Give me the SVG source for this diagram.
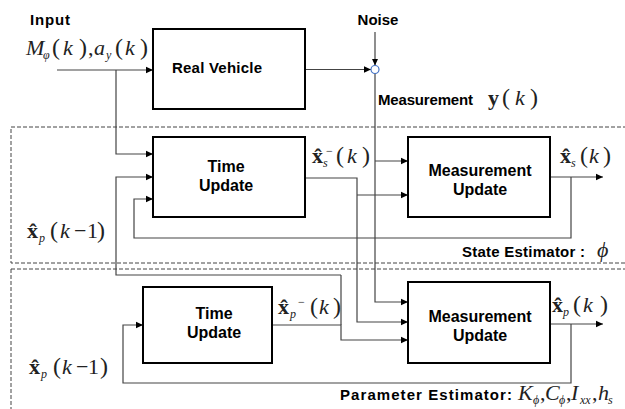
<svg xmlns="http://www.w3.org/2000/svg" width="625" height="409" viewBox="0 0 625 409">
<defs>
<marker id="ah" markerWidth="8" markerHeight="8" refX="7" refY="4" orient="auto" markerUnits="userSpaceOnUse">
<path d="M0,0.8 L7,4 L0,7.2 Z" fill="#000"/>
</marker>
<style>
.box{fill:#fff;stroke:#000;stroke-width:2}
.dash{fill:none;stroke:#444;stroke-width:1;stroke-dasharray:4,2}
.c{fill:none;stroke:#444;stroke-width:1.2}
.a{marker-end:url(#ah)}
.lb{font-family:"Liberation Sans",Arial,sans-serif;font-weight:bold;font-size:15px;fill:#000}
.bx{font-size:16px}
.mid{text-anchor:middle}
.m{font-family:"Liberation Serif","Times New Roman",serif;font-size:22px;fill:#222}
.i{font-style:italic}
.b{font-weight:bold}
.s{font-size:12px}
.p{font-size:24px}
</style>
</defs>
<g id="regions">
<rect class="dash" x="11" y="127" width="620" height="136"/>
<rect class="dash" x="11" y="269" width="620" height="150"/>
</g>
<g id="connectors">
<path class="c a" d="M57,70 H153"/>
<path class="c a" d="M116,70 V154 H153"/>
<path class="c a" d="M305,69.5 H371"/>
<path class="c a" d="M375,32 V65.5"/>
<path class="c a" d="M375,73.5 V302 H408"/>
<path class="c a" d="M375,161 H408"/>
<path class="c a" d="M305,178 H357 V322 H408"/>
<path class="c a" d="M357,195 H408"/>
<path class="c a" d="M550,177 H603"/>
<path class="c a" d="M571,177 V238 H134 V199 H153"/>
<path class="c a" d="M341,275 H116 V177 H153"/>
<path class="c a" d="M272,325 H341 V340 H408"/>
<path class="c" d="M341,275 V325"/>
<path class="c a" d="M550,324 H603"/>
<path class="c a" d="M571,324 V383 H123 V325 H143"/>
</g>
<g id="sum">
<circle cx="375" cy="69.5" r="4" fill="#fff" stroke="#4472C4" stroke-width="1.2"/>
</g>
<g id="real-vehicle">
<rect class="box" x="153" y="29" width="152" height="80"/>
<text class="lb" x="172" y="73" textLength="90">Real Vehicle</text>
</g>
<g id="state-time-update">
<rect class="box" x="153" y="137" width="152" height="80"/>
<text class="lb bx mid" x="226" y="172">Time</text>
<text class="lb bx mid" x="226" y="191">Update</text>
</g>
<g id="state-measurement-update">
<rect class="box" x="408" y="137" width="142" height="80"/>
<text class="lb bx mid" x="480" y="176">Measurement</text>
<text class="lb bx mid" x="480" y="195">Update</text>
</g>
<g id="param-time-update">
<rect class="box" x="143" y="287" width="129" height="76"/>
<text class="lb bx mid" x="214" y="319">Time</text>
<text class="lb bx mid" x="214" y="338">Update</text>
</g>
<g id="param-measurement-update">
<rect class="box" x="408" y="282" width="142" height="81"/>
<text class="lb bx mid" x="480" y="322">Measurement</text>
<text class="lb bx mid" x="480" y="341">Update</text>
</g>
<g id="labels">
<text class="lb" x="30" y="25" textLength="40">Input</text>
<text class="lb mid" x="378" y="25">Noise</text>
<text class="lb" x="378" y="105" textLength="95">Measurement</text>
<text class="lb" x="462" y="257" textLength="123">State Estimator :</text>
<text class="lb" x="340" y="400" font-size="16" textLength="172">Parameter Estimator:</text>
<text class="m" y="55"><tspan class="i" x="26">M</tspan><tspan class="i s" x="43" y="59">φ</tspan><tspan class="p" x="52" y="55">(</tspan><tspan class="i" x="63">k</tspan><tspan class="p" x="79">)</tspan><tspan x="88">,</tspan><tspan class="i" x="94">a</tspan><tspan class="i s" x="106" y="59">y</tspan><tspan class="p" x="115" y="55">(</tspan><tspan class="i" x="125">k</tspan><tspan class="p" x="140">)</tspan></text>
<text class="m" y="105"><tspan class="b" x="488">y</tspan><tspan class="p" x="502">(</tspan><tspan class="i" x="515">k</tspan><tspan class="p" x="530">)</tspan></text>
<text class="m" y="163"><tspan class="b" x="312">x̂</tspan><tspan class="i s" x="323" y="167">s</tspan><tspan class="s" x="326" y="155">−</tspan><tspan class="p" x="336" y="163">(</tspan><tspan class="i" x="347">k</tspan><tspan class="p" x="362">)</tspan></text>
<text class="m" y="163"><tspan class="b" x="560">x̂</tspan><tspan class="i s" x="571" y="167">s</tspan><tspan class="p" x="580" y="163">(</tspan><tspan class="i" x="589">k</tspan><tspan class="p" x="603">)</tspan></text>
<text class="m" y="238"><tspan class="b" x="27">x̂</tspan><tspan class="i s" x="39" y="242">p</tspan><tspan class="p" x="50" y="238">(</tspan><tspan class="i" x="60">k</tspan><tspan x="74">−</tspan><tspan x="87">1</tspan><tspan class="p" x="97">)</tspan></text>
<text class="m" y="314"><tspan class="b" x="278">x̂</tspan><tspan class="i s" x="290" y="318">p</tspan><tspan class="s" x="298" y="306">−</tspan><tspan class="p" x="310" y="314">(</tspan><tspan class="i" x="319">k</tspan><tspan class="p" x="333">)</tspan></text>
<text class="m" y="312"><tspan class="b" x="552">x̂</tspan><tspan class="i s" x="563" y="316">p</tspan><tspan class="p" x="573" y="312">(</tspan><tspan class="i" x="583">k</tspan><tspan class="p" x="600">)</tspan></text>
<text class="m" y="374"><tspan class="b" x="29">x̂</tspan><tspan class="i s" x="41" y="378">p</tspan><tspan class="p" x="53" y="374">(</tspan><tspan class="i" x="62">k</tspan><tspan x="76">−</tspan><tspan x="88">1</tspan><tspan class="p" x="100">)</tspan></text>
<text class="m i" x="597" y="257">ϕ</text>
<text class="m" y="400"><tspan class="i" x="518">K</tspan><tspan class="i s" x="533" y="404">ϕ</tspan><tspan x="540" y="400">,</tspan><tspan class="i" x="545">C</tspan><tspan class="i s" x="559" y="404">ϕ</tspan><tspan x="566" y="400">,</tspan><tspan class="i" x="571">I</tspan><tspan class="i s" x="580" y="404">xx</tspan><tspan x="592" y="400">,</tspan><tspan class="i" x="598">h</tspan><tspan class="i s" x="608" y="404">s</tspan></text>
</g>
</svg>
